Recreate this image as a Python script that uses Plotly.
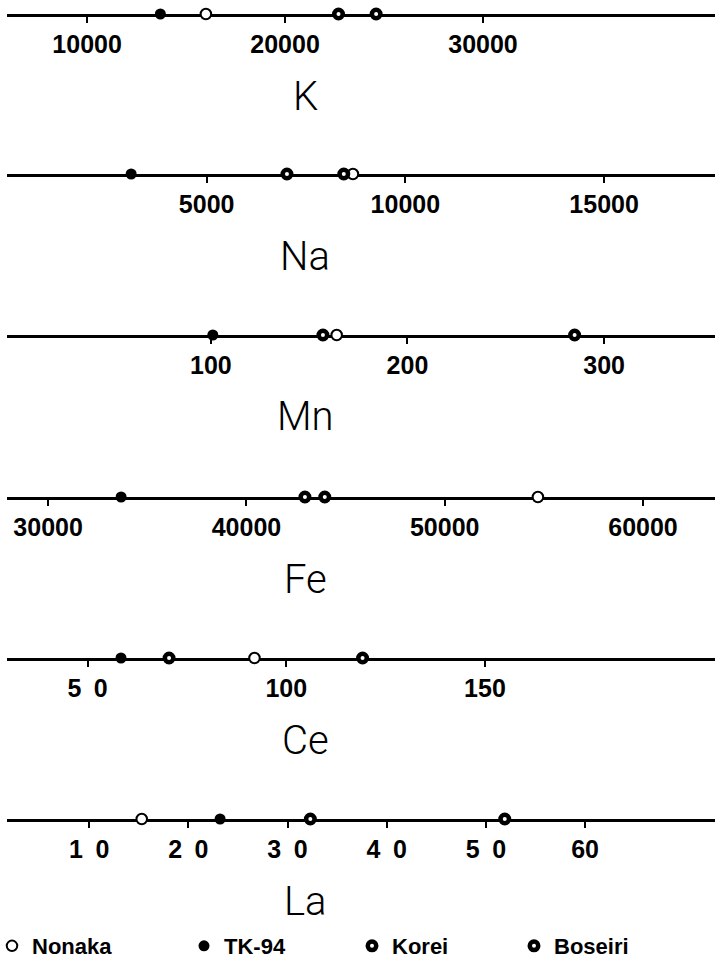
import plotly.graph_objects as go

# ---------------- data ----------------
elements = ["K", "Na", "Mn", "Fe", "Ce", "La"]
samples = ["Nonaka", "TK-94", "Korei", "Boseiri"]

nonaka = [16000, 8680, 164, 54700, 92.0, 15.3]
tk94 = [13700, 3100, 101, 33680, 58.4, 23.2]
korei = [22700, 7020, 157, 42950, 70.5, 32.3]
boseiri = [24600, 8450, 285, 43950, 119.2, 51.9]

tick_values = [
    [10000, 20000, 30000],
    [5000, 10000, 15000],
    [100, 200, 300],
    [30000, 40000, 50000, 60000],
    [50, 100, 150],
    [10, 20, 30, 40, 50, 60],
]
tick_labels = [
    ["10000", "20000", "30000"],
    ["5000", "10000", "15000"],
    ["100", "200", "300"],
    ["30000", "40000", "50000", "60000"],
    ["5\u20020", "100", "150"],
    ["1\u20020", "2\u20020", "3\u20020", "4\u20020", "5\u20020", "60"],
]

# ---------------- layout settings ----------------
W, H = 715, 963
axis_ranges = [
    [5960, 41720],
    [-20, 17790],
    [-3.6, 356.4],
    [27933, 63630],
    [29.75, 207.9],
    [1.73, 73.1],
]
line_y_px = [14, 174, 335, 497, 658, 819]
title_offset_px = 82
title_x_px = 305

styles = {
    "Nonaka": dict(symbol="circle", size=10.5, color="white", line=dict(color="black", width=2)),
    "TK-94": dict(symbol="circle", size=11, color="black", line=dict(color="black", width=0)),
    "Korei": dict(symbol="circle", size=8.5, color="white", line=dict(color="black", width=4.5)),
    "Boseiri": dict(symbol="circle", size=8.5, color="white", line=dict(color="black", width=4.5)),
}
values = {"Nonaka": nonaka, "TK-94": tk94, "Korei": korei, "Boseiri": boseiri}
legend_x_px = [-8, 184, 352, 514]

fig = go.Figure()

for i, el in enumerate(elements):
    ax = "" if i == 0 else str(i + 1)
    for k, s in enumerate(samples):
        fig.add_trace(go.Scatter(
            x=[values[s][i]], y=[0], mode="markers",
            marker=styles[s], name=s,
            xaxis="x" + ax, yaxis="y" + ax,
            cliponaxis=False,
            showlegend=(i == 0),
            legend="legend" if k == 0 else "legend%d" % (k + 1),
            hoverinfo="x+name",
        ))
    bottom = 1 - line_y_px[i] / H
    fig.layout["xaxis" + ax] = dict(
        domain=[0.01, 1], anchor="y" + ax, range=axis_ranges[i],
        showline=True, linecolor="black", linewidth=3,
        ticks="outside", ticklen=6, tickwidth=1.5, tickcolor="black",
        tickvals=tick_values[i], ticktext=tick_labels[i],
        tickfont=dict(family="Liberation Sans", size=25, color="black", weight="bold"),
        ticklabelstandoff=0, automargin=False,
        showgrid=False, zeroline=False, layer="below traces", fixedrange=True,
    )
    fig.layout["yaxis" + ax] = dict(
        domain=[bottom, min(1.0, bottom + 0.01)], range=[0, 1], visible=False, fixedrange=True,
    )
    fig.add_annotation(
        text=el, xref="paper", yref="paper",
        x=title_x_px / W, y=1 - (line_y_px[i] + title_offset_px) / H,
        xanchor="center", yanchor="middle", showarrow=False,
        font=dict(family="Roboto", size=40, color="black", weight=300),
    )

legend_common = dict(
    orientation="h", yanchor="middle", xanchor="left", y=1 - 946 / H,
    bgcolor="rgba(0,0,0,0)",
    font=dict(family="Liberation Sans", size=22, color="black", weight="bold"),
)
fig.update_layout(
    width=W, height=H, autosize=False,
    margin=dict(l=0, r=0, t=0, b=0, autoexpand=False),
    paper_bgcolor="white", plot_bgcolor="white",
    showlegend=True,
    legend=dict(x=legend_x_px[0] / W, **legend_common),
    legend2=dict(x=legend_x_px[1] / W, **legend_common),
    legend3=dict(x=legend_x_px[2] / W, **legend_common),
    legend4=dict(x=legend_x_px[3] / W, **legend_common),
)

fig.write_html("out.html")
